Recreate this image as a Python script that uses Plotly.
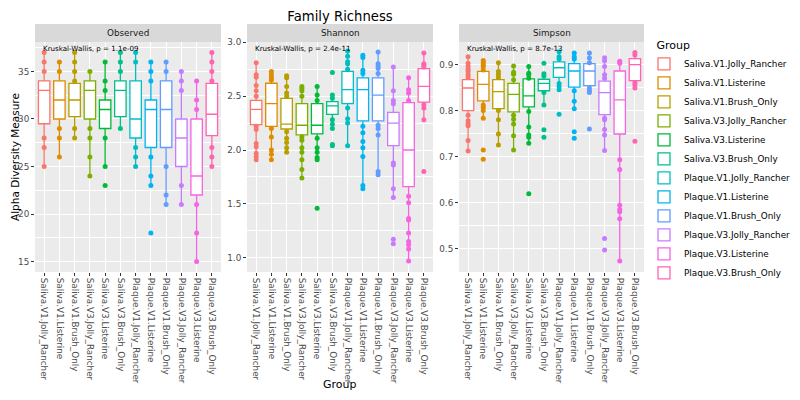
import plotly.graph_objects as go

groups = [
    "Saliva.V1.Jolly_Rancher", "Saliva.V1.Listerine", "Saliva.V1.Brush_Only",
    "Saliva.V3.Jolly_Rancher", "Saliva.V3.Listerine", "Saliva.V3.Brush_Only",
    "Plaque.V1.Jolly_Rancher", "Plaque.V1.Listerine", "Plaque.V1.Brush_Only",
    "Plaque.V3.Jolly_Rancher", "Plaque.V3.Listerine", "Plaque.V3.Brush_Only",
]
colors = ["#F8766D", "#DE8C00", "#B79F00", "#7CAE00", "#00BA38", "#00C08B",
          "#00BFC4", "#00B4F0", "#619CFF", "#C77CFF", "#F564E3", "#FF64B0"]

# Observed
obs_q1 = [29.5, 30, 30.25, 30, 29, 30.25, 28, 27, 27, 25, 22, 28.25]
obs_med = [33, 32, 32, 33, 31, 33, 30, 31, 31, 28, 24, 30.5]
obs_q3 = [34, 34, 33.75, 34, 32, 34, 34, 32, 34, 30, 30, 33.75]
obs_lo = [25, 26, 28, 24, 25, 29, 25, 23, 21, 21, 15, 25]
obs_hi = [37, 36, 37, 35, 36, 37, 37, 36, 36, 35, 34, 37]
obs_pts = [
    [37, 36, 35, 28, 27, 25],
    [36, 35, 29, 28, 26],
    [37, 36, 35, 34, 29, 28],
    [35, 29, 28, 26, 24],
    [36, 34, 33, 28, 25, 23],
    [37, 36, 35, 29],
    [37, 36, 27, 26, 25],
    [36, 35, 34, 26, 24, 23, 18],
    [36, 35, 25, 22, 21],
    [35, 34, 33, 23, 21],
    [34, 32, 31, 21, 18, 15],
    [37, 36, 35, 34, 27, 26, 25],
]

# Shannon
sha_q1 = [2.235, 2.22, 2.195, 2.14, 2.15, 2.33, 2.43, 2.27, 2.27, 2.04, 1.66, 2.445]
sha_med = [2.378, 2.43, 2.24, 2.23, 2.23, 2.41, 2.56, 2.56, 2.51, 2.25, 2.0, 2.59]
sha_q3 = [2.46, 2.62, 2.48, 2.43, 2.43, 2.45, 2.73, 2.67, 2.67, 2.35, 2.44, 2.755]
sha_lo = [1.91, 1.91, 1.97, 1.74, 1.91, 2.20, 2.04, 1.64, 1.77, 1.56, 0.97, 2.28]
sha_hi = [2.81, 2.73, 2.69, 2.59, 2.59, 2.51, 2.92, 2.88, 2.91, 2.77, 2.67, 2.90]
sha_pts = [
    [2.81, 2.70, 2.675, 2.60, 2.55, 2.50, 2.22, 2.19, 2.06, 2.03, 1.97, 1.94, 1.91],
    [2.73, 2.70, 2.67, 2.65, 2.20, 2.12, 2.0, 1.96, 1.91],
    [2.69, 2.67, 2.59, 2.53, 2.50, 2.17, 2.11, 2.07, 2.02, 1.98],
    [2.59, 2.57, 2.55, 2.50, 2.12, 2.09, 2.02, 1.98, 1.91, 1.82, 1.74],
    [2.59, 2.51, 2.46, 2.11, 2.02, 1.98, 1.93, 1.91, 1.46],
    [2.72, 2.51, 2.48, 2.28, 2.24, 2.20, 2.05, 2.04],
    [2.92, 2.87, 2.82, 2.80, 2.75, 2.39, 2.29, 2.25, 2.04],
    [2.88, 2.86, 2.74, 2.71, 2.22, 2.16, 2.08, 2.02, 1.94, 1.67, 1.64],
    [2.91, 2.80, 2.78, 2.76, 2.71, 2.23, 2.20, 2.14, 1.80, 1.77],
    [2.77, 2.55, 2.46, 2.43, 1.88, 1.86, 1.64, 1.56, 1.17, 1.13],
    [2.67, 2.56, 2.53, 2.46, 1.57, 1.51, 1.365, 1.35, 1.23, 1.15, 1.12, 1.08, 0.97],
    [2.90, 2.80, 2.79, 2.77, 2.42, 2.39, 2.28, 1.80],
]

# Simpson
sim_q1 = [0.80, 0.821, 0.804, 0.797, 0.808, 0.843, 0.872, 0.851, 0.854, 0.791, 0.749, 0.865]
sim_med = [0.849, 0.857, 0.841, 0.835, 0.832, 0.859, 0.893, 0.886, 0.886, 0.839, 0.823, 0.90]
sim_q3 = [0.867, 0.885, 0.867, 0.859, 0.869, 0.868, 0.906, 0.902, 0.902, 0.864, 0.886, 0.913]
sim_lo = [0.712, 0.783, 0.725, 0.714, 0.729, 0.812, 0.845, 0.804, 0.839, 0.713, 0.473, 0.849]
sim_hi = [0.917, 0.909, 0.904, 0.897, 0.896, 0.875, 0.928, 0.925, 0.925, 0.915, 0.907, 0.926]
sim_pts = [
    [0.917, 0.903, 0.896, 0.89, 0.885, 0.878, 0.872, 0.79, 0.778, 0.772, 0.767, 0.735, 0.712],
    [0.909, 0.904, 0.899, 0.896, 0.888, 0.812, 0.807, 0.80, 0.783, 0.714, 0.694],
    [0.904, 0.885, 0.879, 0.872, 0.80, 0.78, 0.749, 0.725],
    [0.897, 0.883, 0.879, 0.867, 0.79, 0.781, 0.771, 0.745, 0.714],
    [0.896, 0.881, 0.878, 0.87, 0.798, 0.764, 0.747, 0.742, 0.729, 0.619],
    [0.903, 0.880, 0.875, 0.839, 0.812, 0.758, 0.742],
    [0.928, 0.917, 0.912, 0.859, 0.852, 0.845, 0.792],
    [0.925, 0.917, 0.912, 0.843, 0.820, 0.804, 0.754, 0.740],
    [0.925, 0.914, 0.904, 0.849, 0.843, 0.839, 0.76],
    [0.915, 0.908, 0.896, 0.878, 0.87, 0.783, 0.78, 0.759, 0.747, 0.713, 0.522, 0.497],
    [0.907, 0.903, 0.693, 0.672, 0.594, 0.585, 0.58, 0.565, 0.473],
    [0.926, 0.921, 0.861, 0.856, 0.849, 0.733],
]

panels = [
    ("Observed", "Kruskal-Wallis, p = 1.1e-09", obs_q1, obs_med, obs_q3, obs_lo, obs_hi, obs_pts),
    ("Shannon", "Kruskal-Wallis, p = 2.4e-11", sha_q1, sha_med, sha_q3, sha_lo, sha_hi, sha_pts),
    ("Simpson", "Kruskal-Wallis, p = 8.7e-13", sim_q1, sim_med, sim_q3, sim_lo, sim_hi, sim_pts),
]

# the page puts the figure 8px in from the window's corner
W, H, OFF = 784, 384, 8


def px(sx):
    return (sx - OFF) / W


def py(sy):
    return 1 - (sy - OFF) / H


x_domains = [[px(35), px(221)], [px(247), px(433)], [px(459), px(644)]]
y_dom = [py(272), py(42)]
y_ranges = [[13.9, 38.1], [0.867, 3.003], [0.449, 0.949]]
y_dticks = [5, 0.5, 0.1]
y_formats = ["d", ".1f", ".1f"]

fig = go.Figure()
annotations = []
shapes = []

for p, (name, kw, q1, med, q3, lo, hi, pts) in enumerate(panels):
    sfx = "" if p == 0 else str(p + 1)
    xa, ya = "x" + sfx, "y" + sfx
    for i, g in enumerate(groups):
        fig.add_trace(go.Scatter(
            x=[g] * len(pts[i]), y=pts[i], mode="markers",
            marker=dict(color=colors[i], size=5),
            xaxis=xa, yaxis=ya, showlegend=False, hoverinfo="y",
        ))
        fig.add_trace(go.Box(
            x=[g], q1=[q1[i]], median=[med[i]], q3=[q3[i]],
            lowerfence=[lo[i]], upperfence=[hi[i]],
            name=g, legendgroup=g, showlegend=(p == 0),
            fillcolor="white", line=dict(color=colors[i], width=1.3),
            whiskerwidth=0, width=0.75, boxpoints=False,
            xaxis=xa, yaxis=ya,
        ))
    fig.update_layout({
        "xaxis" + sfx: dict(
            domain=x_domains[p], anchor=ya, type="category",
            categoryorder="array", categoryarray=groups,
            range=[-0.6, 11.6], tickangle=90, showgrid=True, gridcolor="white",
            gridwidth=1.1, ticks="outside", ticklen=3, tickcolor="#333333",
            tickfont=dict(size=8.8, color="#4D4D4D"), zeroline=False,
        ),
        "yaxis" + sfx: dict(
            domain=y_dom, anchor=xa, range=y_ranges[p], dtick=y_dticks[p],
            tickformat=y_formats[p], showgrid=True, gridcolor="white", gridwidth=1.1,
            minor=dict(dtick=y_dticks[p] / 2, showgrid=True, gridcolor="white", gridwidth=0.5),
            ticks="outside", ticklen=3, tickcolor="#333333",
            tickfont=dict(size=8.8, color="#4D4D4D"), zeroline=False,
        ),
    })
    shapes.append(dict(type="rect", xref="paper", yref="paper",
                       x0=x_domains[p][0], x1=x_domains[p][1], y0=y_dom[0], y1=y_dom[1],
                       fillcolor="#EBEBEB", line=dict(width=0), layer="below"))
    shapes.append(dict(type="rect", xref="paper", yref="paper",
                       x0=x_domains[p][0], x1=x_domains[p][1], y0=py(42), y1=py(24),
                       fillcolor="#D9D9D9", line=dict(width=0)))
    annotations.append(dict(text=name, xref="paper", yref="paper",
                            x=sum(x_domains[p]) / 2, y=py(33), xanchor="center",
                            yanchor="middle", showarrow=False,
                            font=dict(size=8.8, color="#1A1A1A")))
    annotations.append(dict(text=kw, xref=xa, yref=ya + " domain", x=groups[0], y=0.97,
                            xanchor="left", yanchor="middle", showarrow=False, xshift=-3,
                            font=dict(size=7.1, color="black")))

annotations.append(dict(text="Alpha Diversity Measure", xref="paper", yref="paper",
                        x=px(15), y=py(157), xanchor="center", yanchor="middle",
                        textangle=-90, showarrow=False, font=dict(size=10.5, color="black")))
annotations.append(dict(text="Group", xref="paper", yref="paper",
                        x=px(340), y=py(384), xanchor="center", yanchor="middle",
                        showarrow=False, font=dict(size=11, color="black")))

fig.update_layout(
    width=W, height=H,
    margin=dict(l=0, r=0, t=0, b=0, autoexpand=False),
    paper_bgcolor="white", plot_bgcolor="rgba(0,0,0,0)",
    font=dict(family="DejaVu Sans", color="black"),
    title=dict(text="Family Richness", x=px(340), xanchor="center",
               y=py(16), yanchor="middle", font=dict(size=13.2)),
    boxmode="overlay",
    shapes=shapes,
    annotations=annotations,
    legend=dict(title=dict(text="   Group", font=dict(size=11)), font=dict(size=8.8),
                x=px(644), xanchor="left", y=py(35), yanchor="top",
                tracegroupgap=0, bgcolor="rgba(0,0,0,0)"),
)

fig.write_html("out.html")
